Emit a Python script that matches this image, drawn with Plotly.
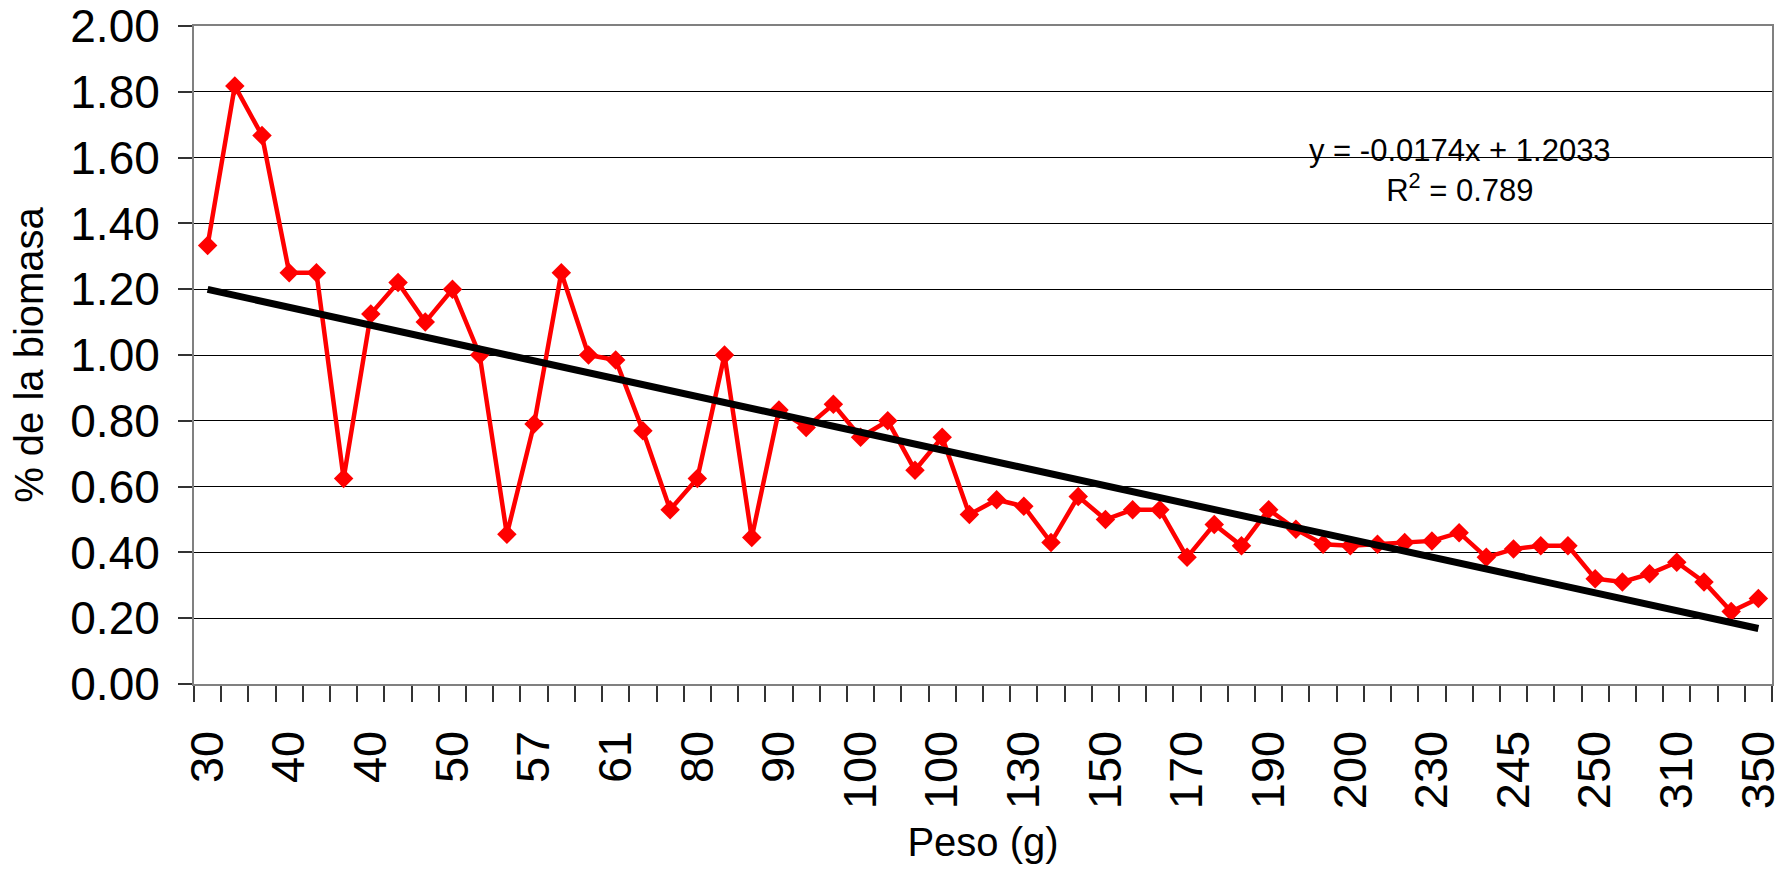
import numpy as np
import plotly.graph_objects as go

# Category tick labels (every 3rd category is labelled in the original chart)
tick_labels = ["30", "40", "40", "50", "57", "61", "80", "90", "100", "100",
               "130", "150", "170", "190", "200", "230", "245", "250", "310", "350"]

# % de la biomasa for each of the 58 weight categories
biomasa = [1.333, 1.818, 1.667, 1.25, 1.25, 0.625, 1.125, 1.22, 1.10, 1.20,
           1.00, 0.455, 0.79, 1.25, 1.00, 0.985, 0.77, 0.53, 0.625, 1.00,
           0.445, 0.833, 0.78, 0.85, 0.75, 0.80, 0.65, 0.75, 0.515, 0.56,
           0.54, 0.43, 0.57, 0.50, 0.53, 0.53, 0.385, 0.485, 0.42, 0.53,
           0.47, 0.425, 0.42, 0.425, 0.43, 0.435, 0.46, 0.385, 0.41, 0.42,
           0.42, 0.32, 0.31, 0.335, 0.37, 0.31, 0.22, 0.26]

equation_text = "y = -0.0174x + 1.2033<br>R<sup>2</sup> = 0.789"

n = len(biomasa)
xi = np.arange(n)
tick_pos = list(range(0, n, 3))

slope, intercept = np.polyfit(xi, biomasa, 1)
trend = slope * xi + intercept

FONT = "Liberation Sans, Arial, sans-serif"

fig = go.Figure()
fig.add_trace(go.Scatter(
    x=xi, y=biomasa, mode="lines+markers",
    line=dict(color="#ff0000", width=4.5),
    marker=dict(symbol="diamond", size=15, color="#ff0000"),
    showlegend=False, cliponaxis=False,
))
fig.add_trace(go.Scatter(
    x=[xi[0], xi[-1]], y=[trend[0], trend[-1]], mode="lines",
    line=dict(color="#000000", width=7),
    showlegend=False, cliponaxis=False,
))

fig.add_annotation(
    x=0.802, y=0.78, xref="paper", yref="paper",
    text=equation_text, showarrow=False,
    font=dict(family=FONT, size=31, color="#000"),
    align="center", xanchor="center", yanchor="middle",
)

fig.update_layout(
    width=1788, height=869,
    margin=dict(l=194, r=16, t=26, b=185, autoexpand=False),
    paper_bgcolor="white", plot_bgcolor="white",
    font=dict(family=FONT, color="#000"),
    xaxis=dict(
        range=[-0.5, n - 0.5], automargin=False,
        tickmode="array", tickvals=tick_pos, ticktext=tick_labels,
        tickangle=-90, tickfont=dict(size=47, family=FONT, color="#000"),
        ticks="outside", ticklen=16, tickcolor="rgba(0,0,0,0)",
        ticklabelstandoff=10,
        showgrid=False, zeroline=False,
        showline=True, linecolor="#808080", linewidth=2, mirror=True,
        minor=dict(ticks="outside", ticklen=16, tickwidth=1.5, tickcolor="#333",
                   tickmode="linear", tick0=-0.5, dtick=1, showgrid=False),
        title=dict(text="Peso (g)", font=dict(size=40, family=FONT, color="#000"),
                   standoff=20),
    ),
    yaxis=dict(
        range=[0, 2.0], tickmode="linear", tick0=0, dtick=0.2, tickformat=".2f",
        automargin=False,
        tickfont=dict(size=46, family=FONT, color="#000"),
        ticks="outside", ticklen=14, tickwidth=1.5, tickcolor="#333",
        ticklabelstandoff=9,
        showgrid=True, gridcolor="#000000", gridwidth=1,
        zeroline=False,
        showline=True, linecolor="#808080", linewidth=2, mirror=True,
        title=dict(text="% de la biomasa", font=dict(size=40, family=FONT, color="#000"),
                   standoff=14),
    ),
)

fig.write_html("out.html")
